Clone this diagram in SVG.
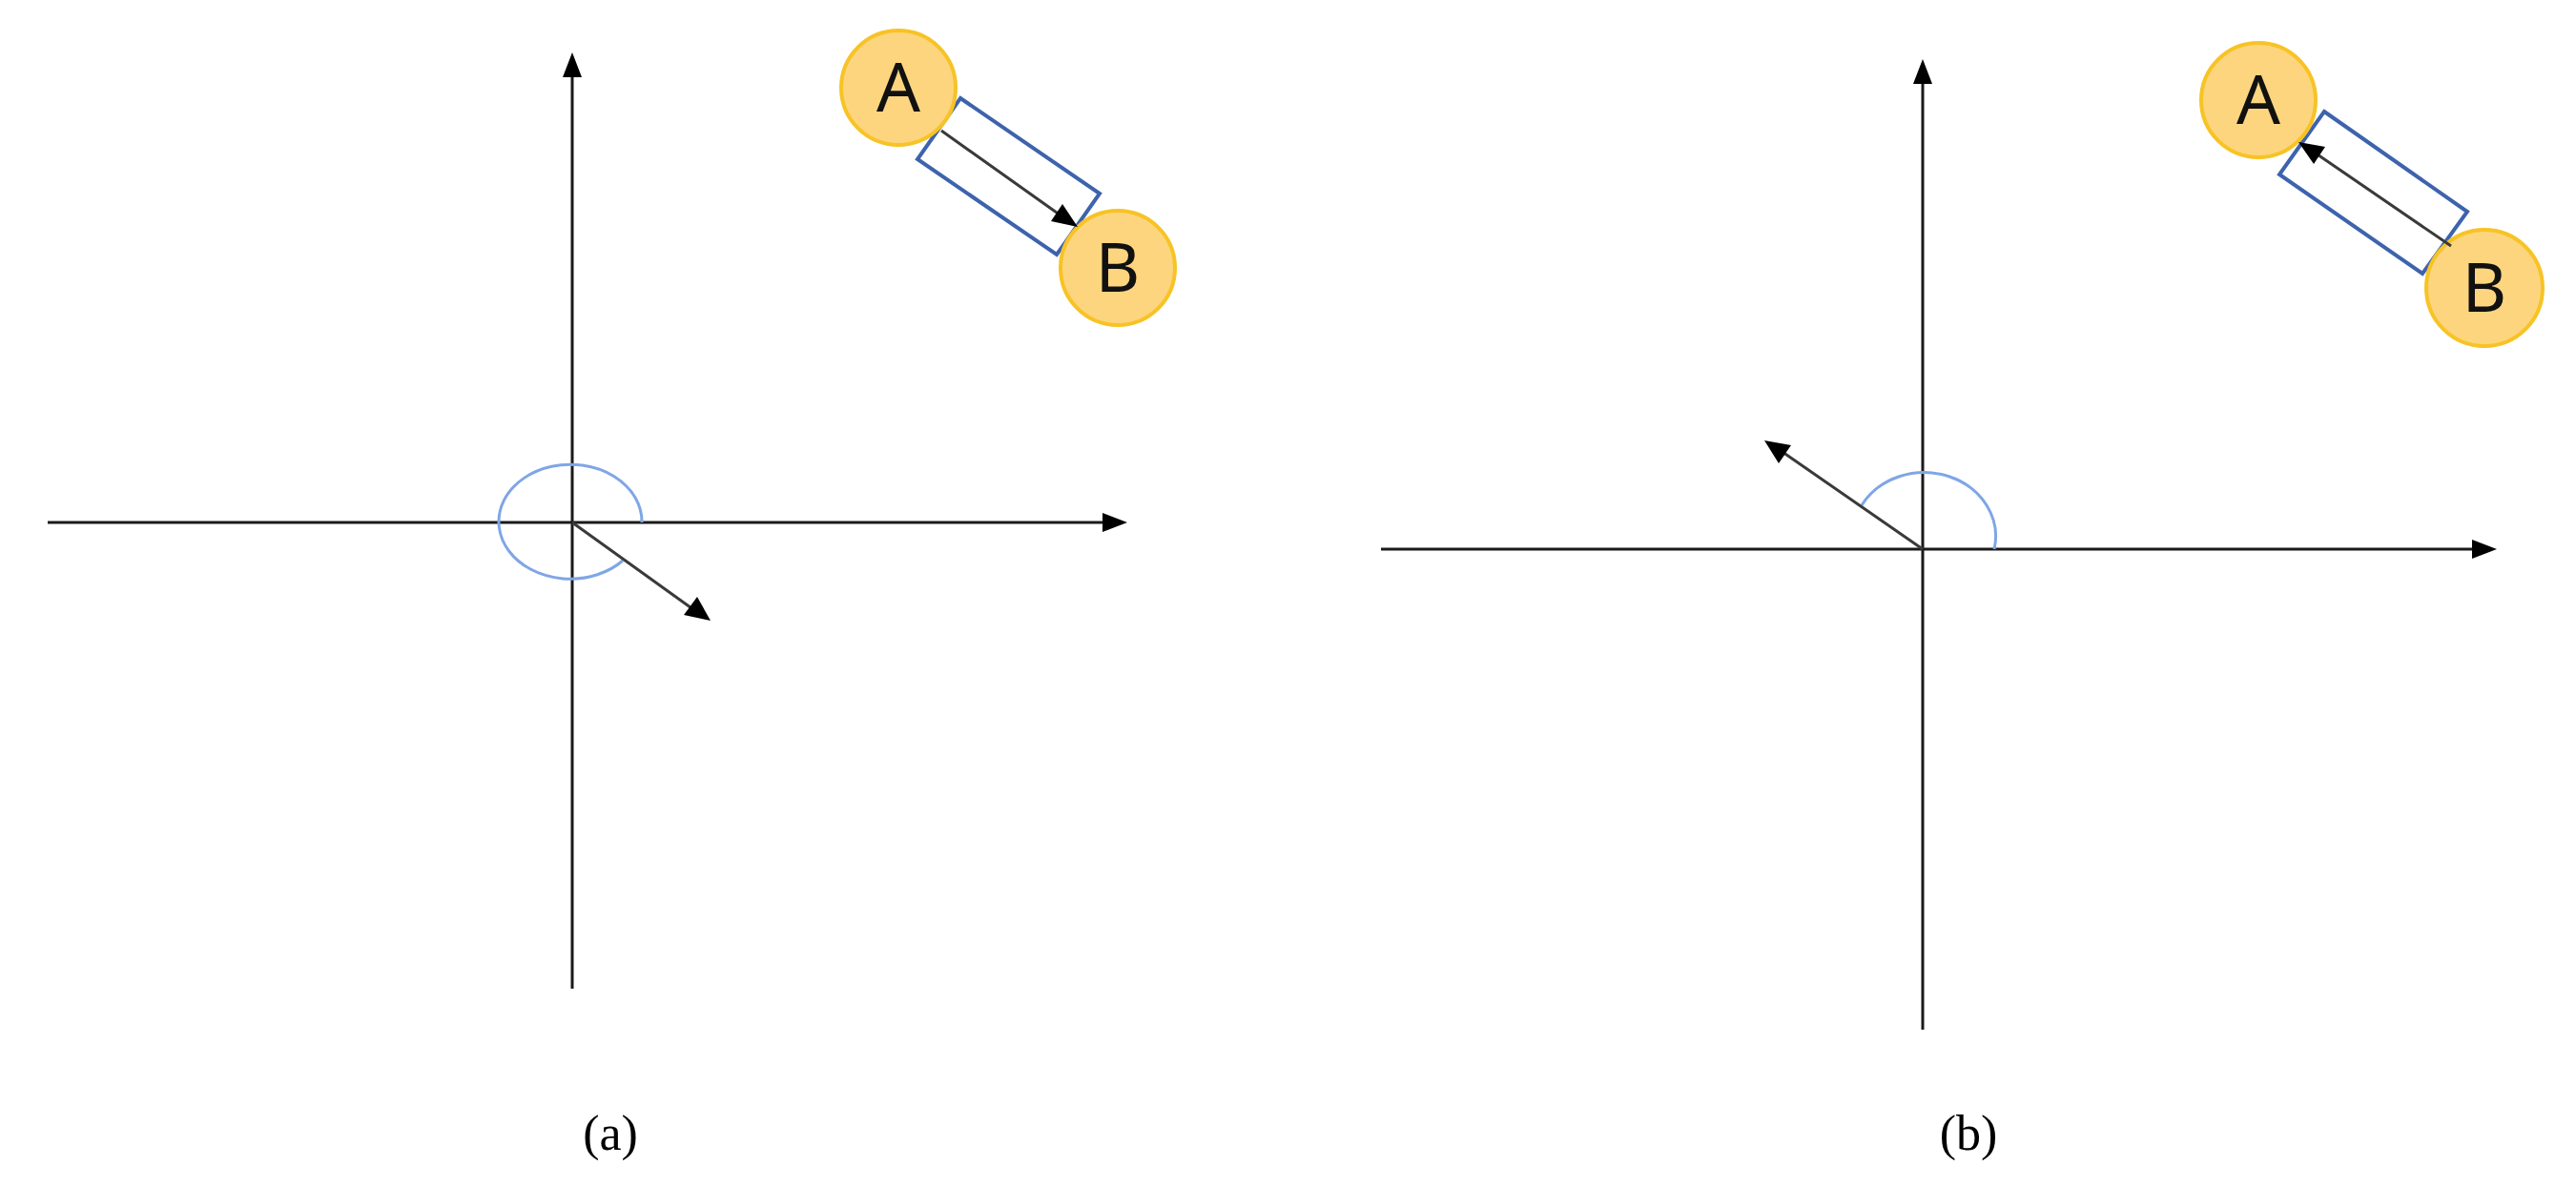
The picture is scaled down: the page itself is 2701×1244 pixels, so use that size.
<svg xmlns="http://www.w3.org/2000/svg" width="2701" height="1244" viewBox="0 0 2701 1244">
<style>
.ax{stroke:#1a1a1a;stroke-width:3;fill:none}
.vec{stroke:#3a3a3a;stroke-width:3;fill:none}
.arc{stroke:#7fa6e6;stroke-width:3;fill:none}
.nd{fill:#fdd57e;stroke:#f7c325;stroke-width:4}
.box{fill:#fff;stroke:#3e63ad;stroke-width:4}
.lbl{font-family:"Noto Sans","Open Sans",sans-serif;font-size:72px;fill:#111}
.cap{font-family:"Liberation Serif",serif;font-size:52px;fill:#000}
</style>
<g id="connectors">
<line class="ax" x1="50" y1="548" x2="1160" y2="548"/>
<line class="ax" x1="600" y1="1037" x2="600" y2="75"/>
<line class="ax" x1="1448" y1="576" x2="2596" y2="576"/>
<line class="ax" x1="2016" y1="1080" x2="2016" y2="82"/>
<path d="M1182,548 l-26,-10 v20 z M600,55 l-10,26 h20 z M2618,576 l-26,-10 v20 z M2016,62 l-10,26 h20 z" fill="#000"/>
<path class="arc" d="M673,548 A75,60 0 1 0 653,588"/>
<path class="arc" d="M2091,576 A75,67 0 0 0 1952,530"/>
<line class="vec" x1="600" y1="548" x2="728" y2="640"/>
<path d="M745,651 l-28,-6 l14,-19 z" fill="#000"/>
<line class="vec" x1="2016" y1="576" x2="1866" y2="472"/>
<path d="M1850,462 l28,5 l-13,19 z" fill="#000"/>
</g>
<g id="pairA">
<polygon class="box" points="1007,103 1153,203 1108,267 962,167"/>
<circle class="nd" cx="942" cy="92" r="60"/>
<circle class="nd" cx="1172" cy="281" r="60"/>
<line class="vec" x1="987" y1="137" x2="1115" y2="228"/>
<path d="M1130,238 l-28,-6 l12,-18 z" fill="#000"/>
<text class="lbl" x="942" y="117" text-anchor="middle">A</text>
<text class="lbl" x="1172" y="306" text-anchor="middle">B</text>
</g>
<g id="pairB">
<polygon class="box" points="2437,117 2587,222 2540,287 2390,183"/>
<circle class="nd" cx="2368" cy="105" r="60"/>
<circle class="nd" cx="2605" cy="302" r="61"/>
<line class="vec" x1="2570" y1="258" x2="2424" y2="158"/>
<path d="M2410,149 l28,5 l-12,18 z" fill="#000"/>
<text class="lbl" x="2368" y="130" text-anchor="middle">A</text>
<text class="lbl" x="2605" y="327" text-anchor="middle">B</text>
</g>
<g id="captions">
<text class="cap" x="640" y="1206" text-anchor="middle">(a)</text>
<text class="cap" x="2064" y="1206" text-anchor="middle">(b)</text>
</g>
</svg>
